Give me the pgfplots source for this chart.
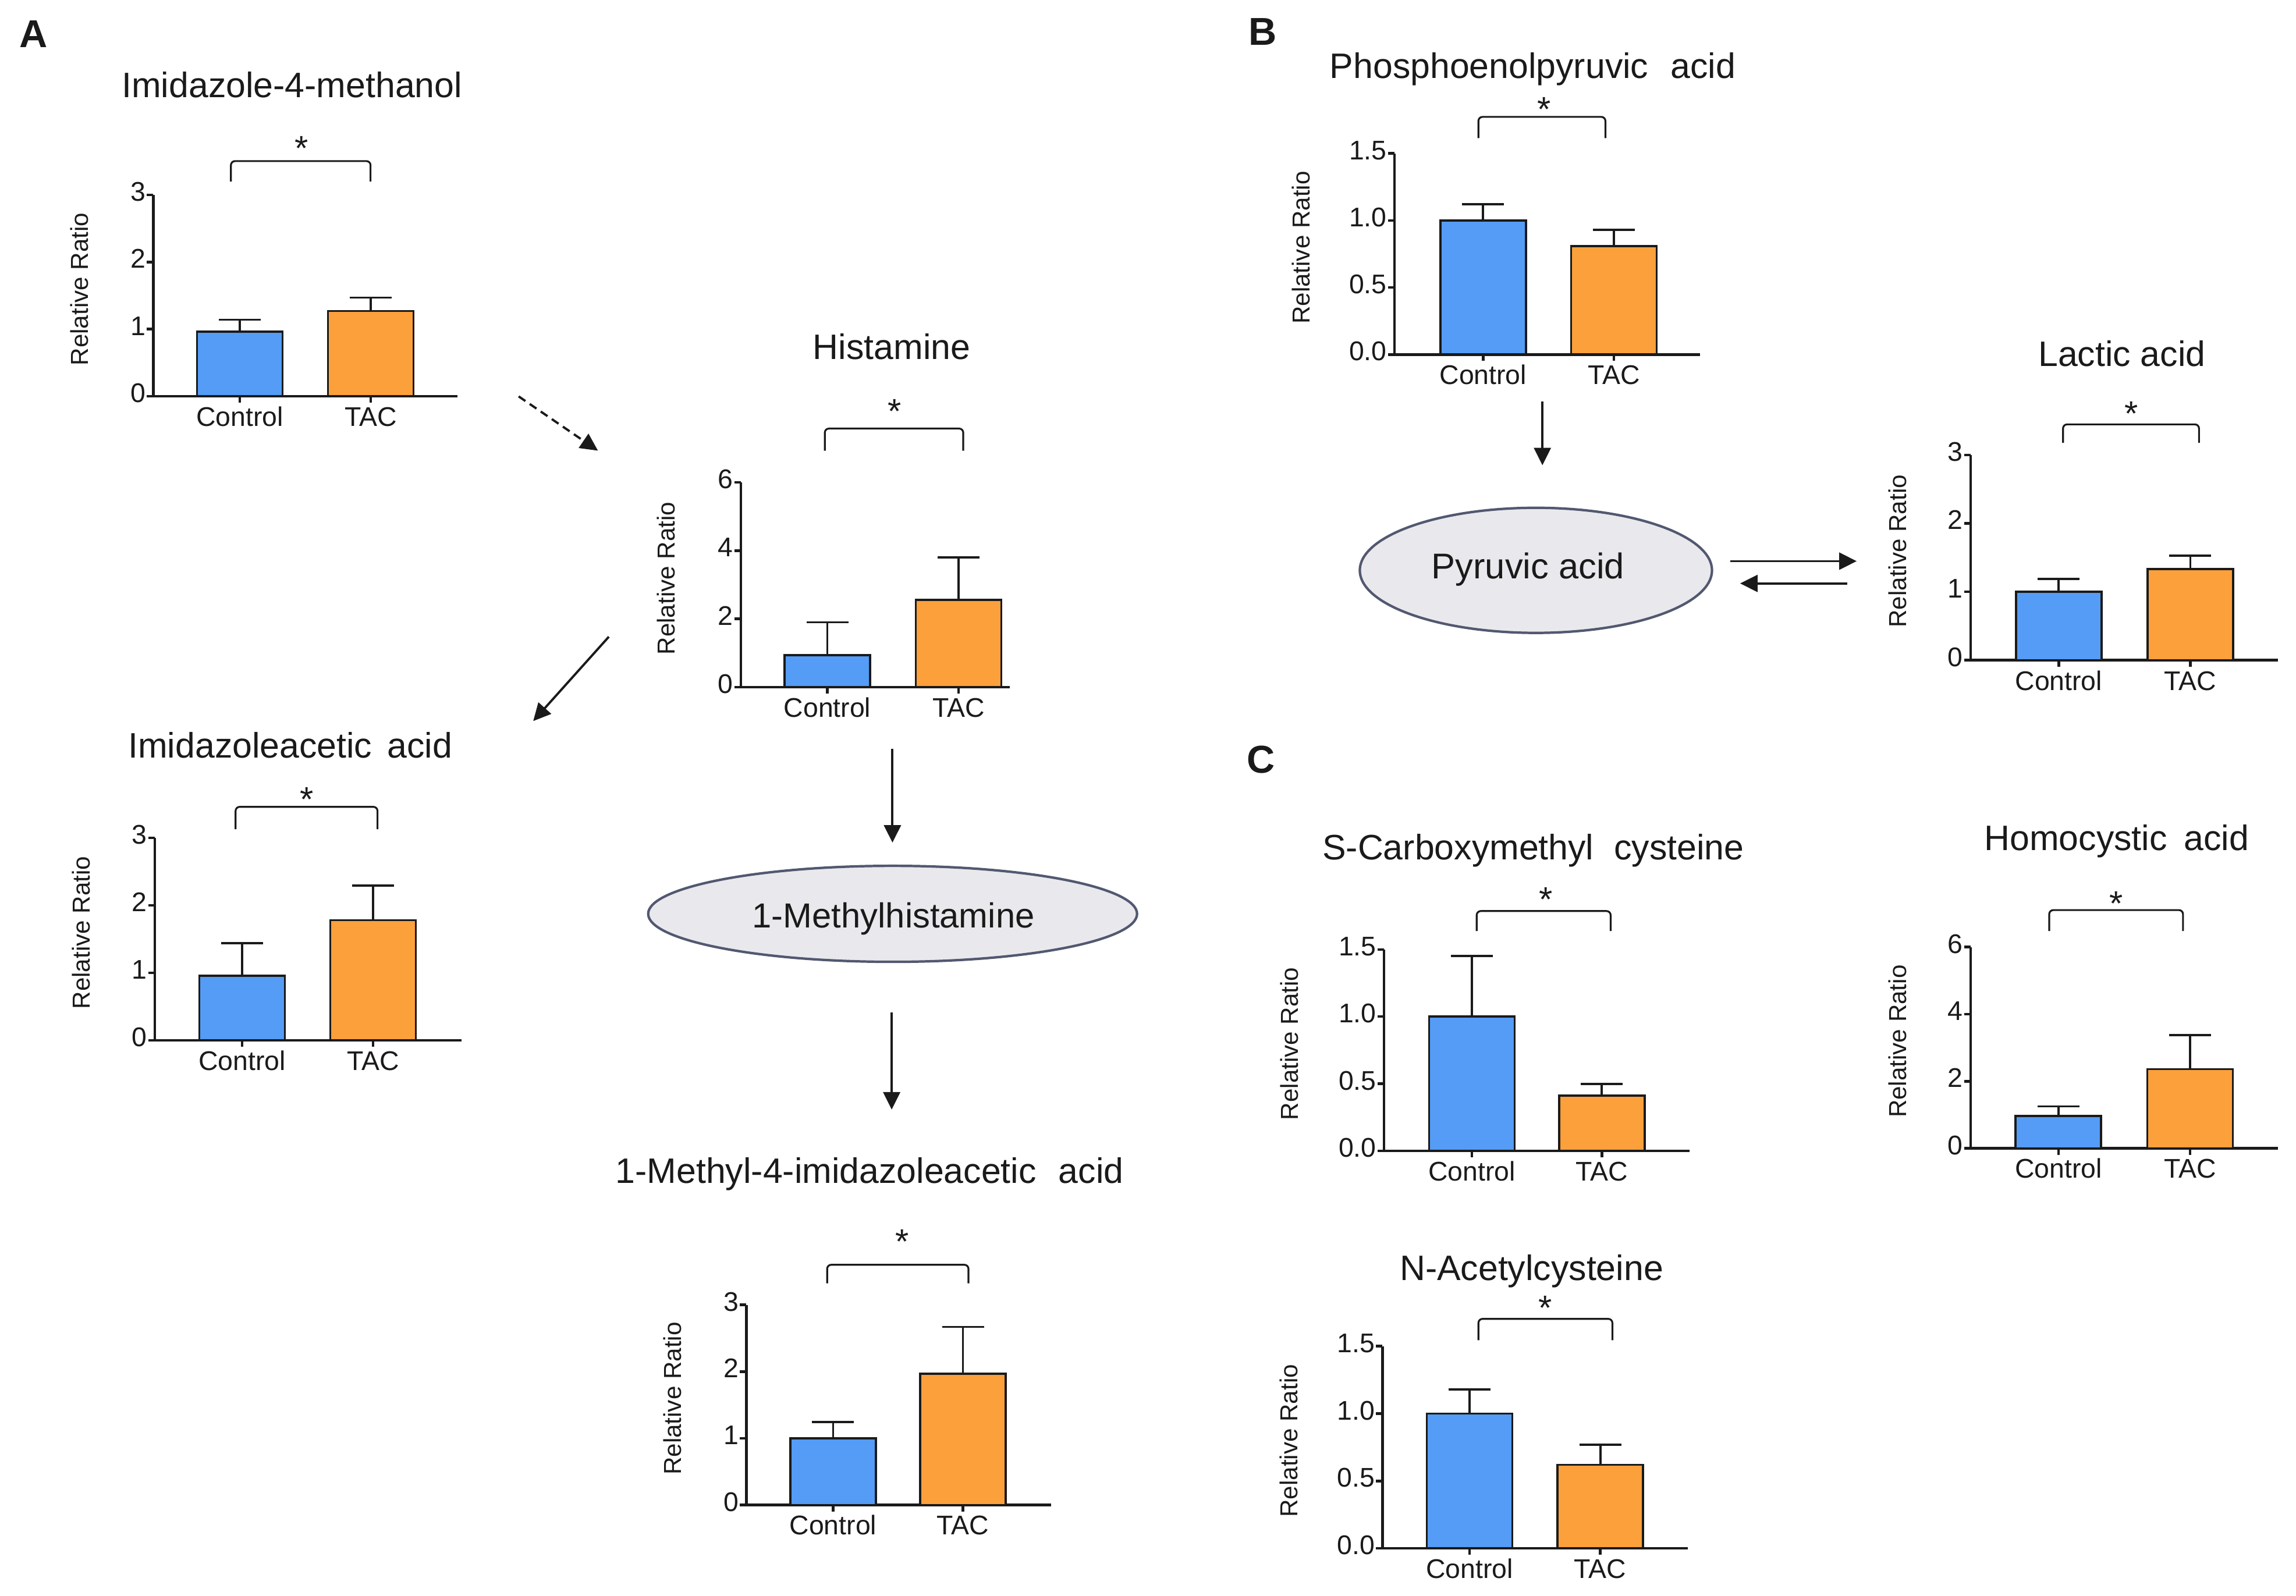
\documentclass[border=0pt]{standalone}
\usepackage{fontspec}
\setmainfont{Liberation Sans}
\usepackage{pgfplots}
\pgfplotsset{compat=1.18}
\usetikzlibrary{arrows.meta}
\definecolor{ctrlblue}{RGB}{84,156,246}
\definecolor{tacorange}{RGB}{252,160,60}
\definecolor{ink}{HTML}{1A1A1A}
\definecolor{ellfill}{RGB}{233,233,237}
\definecolor{elldraw}{RGB}{82,88,112}
\newcommand\titlefont{\fontsize{17.3}{20}\selectfont}
\newcommand\tickfont{\fontsize{13.2}{15}\selectfont}
\pgfplotsset{
  /pgf/number format/assume math mode=true,
  ratio/.style={
    scale only axis, anchor=south west, clip=false,
    axis x line*=bottom, axis y line*=left,
    axis line style={line width=1.3pt, draw=ink, -},
    tick style={line width=1.3pt, draw=ink},
    major tick length=0.11cm, tick align=outside,
    ymin=0,
    xtick={1,2}, xticklabels={Control,TAC},
    typeset ticklabels with strut,
    tick label style={font=\tickfont, text=ink},
    yticklabel style={inner xsep=0.5pt},
    xticklabel style={yshift=0.09cm},
    ylabel={Relative Ratio},
    every axis y label/.style={at={(axis description cs:0,0.5)}, xshift=-#1, yshift=0.11cm, rotate=90, anchor=center, font=\fontsize{12}{14}\selectfont, text=ink},
  },
  dec/.style={yticklabel style={/pgf/number format/.cd, fixed, fixed zerofill, precision=1}},
  barstyle/.style={ybar, bar width=1.47cm, bar shift=0pt, fill=#1, draw=ink, line width=1.1pt,
     error bars/.cd, y dir=plus, y explicit, error bar style={line width=1.1pt, draw=ink},
     error mark options={rotate=90, mark size=0.36cm, line width=1.1pt, draw=ink}},
}
\begin{document}
\begin{tikzpicture}
\path[use as bounding box] (0,0) rectangle (39.45cm,-27.43cm);

% Panel A
\begin{axis}[ratio=1.27cm, at={(2.635cm,-6.81cm)}, width=5.225cm, height=3.46cm, xmin=0.34, xmax=2.662, ymax=3, ytick={0,1,2,3}]
\addplot[barstyle=ctrlblue] coordinates {(1,0.96) +- (0,0.18)};
\addplot[barstyle=tacorange] coordinates {(2,1.27) +- (0,0.20)};
\end{axis}
\begin{axis}[ratio=1.29cm, at={(12.73cm,-11.81cm)}, width=4.62cm, height=3.52cm, xmin=0.3415, xmax=2.39, ymax=6, ytick={0,2,4,6}]
\addplot[barstyle=ctrlblue] coordinates {(1,0.94) +- (0,0.96)};
\addplot[barstyle=tacorange] coordinates {(2,2.56) +- (0,1.24)};
\end{axis}
\begin{axis}[ratio=1.27cm, at={(2.66cm,-17.88cm)}, width=5.27cm, height=3.48cm, xmin=0.333, xmax=2.676, ymax=3, ytick={0,1,2,3}]
\addplot[barstyle=ctrlblue] coordinates {(1,0.96) +- (0,0.48)};
\addplot[barstyle=tacorange] coordinates {(2,1.78) +- (0,0.51)};
\end{axis}
\begin{axis}[ratio=1.27cm, at={(12.824cm,-25.865cm)}, width=5.236cm, height=3.439cm, xmin=0.332, xmax=2.679, ymax=3, ytick={0,1,2,3}]
\addplot[barstyle=ctrlblue] coordinates {(1,1.00) +- (0,0.24)};
\addplot[barstyle=tacorange] coordinates {(2,1.97) +- (0,0.70)};
\end{axis}

% Panel B
\begin{axis}[ratio=1.61cm, dec, at={(23.96cm,-6.094cm)}, width=5.25cm, height=3.457cm, xmin=0.322, xmax=2.659, ymax=1.5, ytick={0,0.5,1,1.5}]
\addplot[barstyle=ctrlblue] coordinates {(1,1.00) +- (0,0.12)};
\addplot[barstyle=tacorange] coordinates {(2,0.81) +- (0,0.12)};
\end{axis}
\begin{axis}[ratio=1.26cm, at={(33.86cm,-11.347cm)}, width=5.276cm, height=3.529cm, xmin=0.331, xmax=2.664, ymax=3, ytick={0,1,2,3}]
\addplot[barstyle=ctrlblue] coordinates {(1,1.00) +- (0,0.19)};
\addplot[barstyle=tacorange] coordinates {(2,1.33) +- (0,0.20)};
\end{axis}

% Panel C
\begin{axis}[ratio=1.63cm, dec, at={(23.78cm,-19.78cm)}, width=5.25cm, height=3.462cm, xmin=0.324, xmax=2.675, ymax=1.5, ytick={0,0.5,1,1.5}]
\addplot[barstyle=ctrlblue] coordinates {(1,1.00) +- (0,0.45)};
\addplot[barstyle=tacorange] coordinates {(2,0.41) +- (0,0.09)};
\end{axis}
\begin{axis}[ratio=1.26cm, at={(33.86cm,-19.736cm)}, width=5.276cm, height=3.459cm, xmin=0.333, xmax=2.666, ymax=6, ytick={0,2,4,6}]
\addplot[barstyle=ctrlblue] coordinates {(1,0.97) +- (0,0.28)};
\addplot[barstyle=tacorange] coordinates {(2,2.36) +- (0,1.02)};
\end{axis}
\begin{axis}[ratio=1.61cm, dec, at={(23.754cm,-26.61cm)}, width=5.246cm, height=3.473cm, xmin=0.334, xmax=2.67, ymax=1.5, ytick={0,0.5,1,1.5}]
\addplot[barstyle=ctrlblue] coordinates {(1,1.00) +- (0,0.18)};
\addplot[barstyle=tacorange] coordinates {(2,0.62) +- (0,0.15)};
\end{axis}

\begin{scope}[x=0.01cm, y=-0.01cm, color=ink, text=ink]
% panel letters
\node[anchor=base west, font=\bfseries\fontsize{19}{22}\selectfont, inner sep=0pt] at (33,82) {A};
\node[anchor=base west, font=\bfseries\fontsize{19}{22}\selectfont, inner sep=0pt] at (2146,78) {B};
\node[anchor=base west, font=\bfseries\fontsize{19}{22}\selectfont, inner sep=0pt] at (2143,1329) {C};
% titles
\node[anchor=base, font=\titlefont] at (502,168) {Imidazole-4-methanol};
\node[anchor=base, font=\titlefont] at (1533,618) {Histamine};
\node[anchor=base, font=\titlefont] at (499,1303) {Imidazoleacetic\hspace{0.15em} acid};
\node[anchor=base, font=\titlefont] at (1495,2035) {1-Methyl-4-imidazoleacetic\hspace{0.35em} acid};
\node[anchor=base, font=\titlefont] at (2635,135) {Phosphoenolpyruvic\hspace{0.35em} acid};
\node[anchor=base, font=\titlefont] at (3648,630) {Lactic acid};
\node[anchor=base, font=\titlefont] at (2636,1478) {S-Carboxymethyl\hspace{0.3em} cysteine};
\node[anchor=base, font=\titlefont] at (3639,1462) {Homocystic\hspace{0.2em} acid};
\node[anchor=base, font=\titlefont] at (2633,2202) {N-Acetylcysteine};
% stars
\foreach \sx/\sy in {518/276, 1538/728, 527/1395, 1551/2156, 2655/209, 3664/732, 2658/1567, 3638/1574, 2657/2270}
  \node[anchor=base, font=\fontsize{17}{20}\selectfont, inner sep=0pt] at (\sx,\sy) {*};
% brackets
\begin{scope}[line width=0.9pt, rounded corners=2pt]
\draw (397,312) -- (397,277) -- (637,277) -- (637,312);
\draw (1418,775) -- (1418,737) -- (1656,737) -- (1656,775);
\draw (405,1426) -- (405,1387.5) -- (649,1387.5) -- (649,1426);
\draw (1422,2207) -- (1422,2175) -- (1665,2175) -- (1665,2207);
\draw (2541.7,237.6) -- (2541.7,201) -- (2760,201) -- (2760,237.6);
\draw (3546.7,761.5) -- (3546.7,729.8) -- (3780.5,729.8) -- (3780.5,761.5);
\draw (2538.7,1601) -- (2538.7,1566.7) -- (2769,1566.7) -- (2769,1601);
\draw (3523,1601) -- (3523,1565) -- (3753,1565) -- (3753,1601);
\draw (2541.7,2304.8) -- (2541.7,2268) -- (2772,2268) -- (2772,2304.8);
\end{scope}
% ellipses
\draw[fill=ellfill, draw=elldraw, line width=1.2pt] (1534.6,1571.5) ellipse [x radius=4.2cm, y radius=0.825cm];
\node[anchor=base, font=\fontsize{17}{20}\selectfont] at (1536,1595) {1-Methylhistamine};
\draw[fill=ellfill, draw=elldraw, line width=1.2pt] (2640.5,980.8) ellipse [x radius=3.026cm, y radius=1.075cm];
\node[anchor=base, font=\fontsize{17.5}{20}\selectfont] at (2627,995) {Pyruvic acid};
% arrows
\begin{scope}[line width=1.1pt, -{Triangle[length=0.3cm, width=0.29cm]}]
\draw[dash pattern=on 0.14cm off 0.09cm] (891.7,681.7) -- (1028,775);
\draw (1046.7,1095) -- (916.7,1240);
\draw (1534.3,1288) -- (1534.3,1449);
\draw (1533,1741) -- (1533,1908);
\draw (2651.7,690) -- (2651.7,800);
\draw (2975,965) -- (3192,965);
\draw (3176,1003.3) -- (2991.6,1003.3);
\end{scope}
\end{scope}
\end{tikzpicture}
\end{document}
